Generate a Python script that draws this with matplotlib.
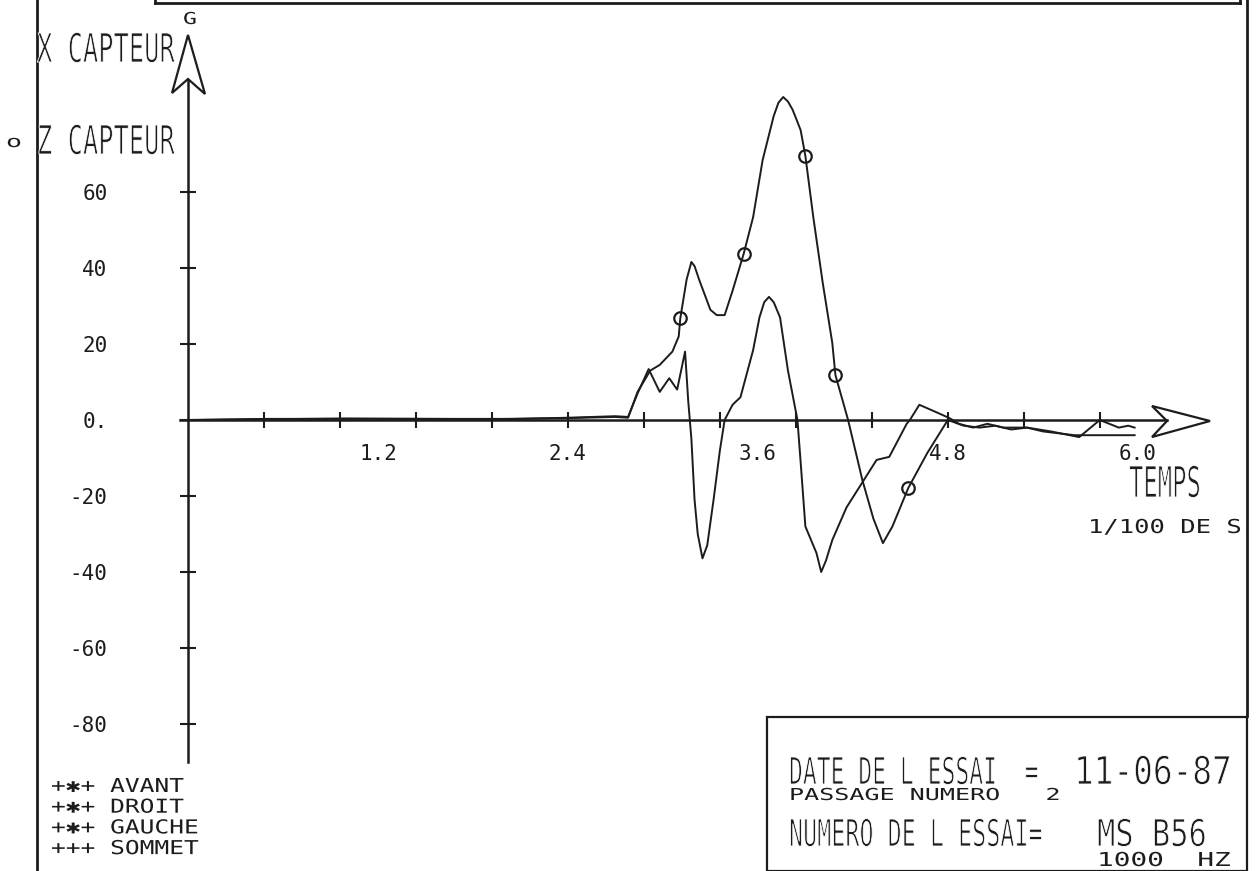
import matplotlib.pyplot as plt
from matplotlib.patches import Polygon, Rectangle
from matplotlib.lines import Line2D
from matplotlib.patheffects import AbstractPathEffect
from matplotlib.transforms import Affine2D

# --- mesures (temps en 1/100 s, acceleration en G) ---
t_x = [0.0, 0.5, 1.0, 1.5, 2.0, 2.4, 2.7, 2.78, 2.84, 2.91, 2.98, 3.04, 3.09,
       3.14, 3.16, 3.18, 3.20, 3.22, 3.25, 3.28, 3.32, 3.36, 3.39, 3.44, 3.49,
       3.57, 3.61, 3.64, 3.67, 3.70, 3.74, 3.79, 3.85, 3.87, 3.90, 3.94, 3.97,
       4.00, 4.03, 4.07, 4.16, 4.23, 4.35, 4.43, 4.54, 4.56, 4.62, 4.73, 4.81,
       4.87, 4.96, 5.05, 5.15, 5.30, 5.45, 5.63, 5.76, 5.82, 5.88, 5.94, 5.98]
g_x = [0.0, 0.2, 0.4, 0.3, 0.2, 0.6, 1.0, 0.8, 7.0, 13.4, 7.4, 11.0, 8.0,
       18.0, 5.0, -5.0, -21.0, -30.0, -36.4, -33.0, -21.0, -8.0, 0.0, 4.0, 6.0,
       18.4, 27.0, 31.0, 32.4, 31.0, 27.0, 13.0, 0.0, -11.0, -28.0, -32.0, -35.0,
       -40.0, -37.0, -31.6, -23.0, -18.4, -10.5, -9.7, -1.0, 0.0, 4.0, 2.0, 0.5,
       -1.0, -2.0, -1.0, -2.0, -2.0, -3.0, -4.5, 0.0, -1.0, -2.0, -1.5, -2.0]

t_z = [0.0, 0.5, 1.0, 1.5, 2.0, 2.4, 2.7, 2.78, 2.84, 2.92, 2.98, 3.06, 3.10,
       3.11, 3.15, 3.18, 3.20, 3.23, 3.30, 3.34, 3.39, 3.44, 3.51, 3.57, 3.63,
       3.70, 3.73, 3.76, 3.79, 3.82, 3.87, 3.90, 3.95, 4.01, 4.07, 4.09, 4.17,
       4.26, 4.33, 4.39, 4.45, 4.55, 4.67, 4.80, 4.90, 5.00, 5.10, 5.20, 5.30,
       5.40, 5.50, 5.60, 5.70, 5.80, 5.90, 5.98]
g_z = [0.0, 0.3, 0.3, 0.3, 0.3, 0.5, 0.8, 0.6, 7.4, 13.0, 14.5, 18.0, 22.0,
       26.8, 37.0, 41.6, 40.5, 36.8, 29.0, 27.6, 27.6, 34.0, 43.7, 53.4, 68.4,
       80.0, 83.5, 85.0, 83.8, 81.6, 76.3, 69.5, 53.4, 36.0, 20.3, 11.8, 0.0,
       -15.8, -26.0, -32.4, -28.0, -17.9, -8.7, 0.0, -1.5, -2.0, -1.5, -2.5, -2.0,
       -3.0, -3.5, -4.0, -4.0, -4.0, -4.0, -4.0]

# points reperes de la voie Z
t_marks = [3.11, 3.51, 3.90, 4.09, 4.55]
g_marks = [26.8, 43.7, 69.5, 11.8, -17.9]

x_ticks = [0.48, 0.96, 1.44, 1.92, 2.40, 2.88, 3.36, 3.84, 4.32, 4.80, 5.28, 5.76]
x_labels = ['1.2', '2.4', '3.6', '4.8', '6.0']
x_label_pos = [1.2, 2.4, 3.6, 4.8, 6.0]
y_ticks = [-80, -60, -40, -20, 0, 20, 40, 60]
y_labels = ['-80', '-60', '-40', '-20', '0.', '20', '40', '60']

legend_lines = ['+✱+ AVANT', '+✱+ DROIT', '+✱+ GAUCHE', '+++ SOMMET']

INK = '#1c1c1c'
W, H = 1257, 871
X0, Y0 = 188, 420       # origine du repere en pixels
SX, SY = 158.3, 3.8     # pixels par unite

MONO = ['DejaVu Sans Mono', 'DejaVu Sans']
CAP = 0.729             # hauteur des capitales / corps (DejaVu Sans Mono)


class PlotterText(AbstractPathEffect):
    """Deforme le texte depuis son point d'origine et amincit le trait."""

    def __init__(self, sx, sy, erode):
        super().__init__()
        self.sx, self.sy, self.erode = sx, sy, erode

    def draw_path(self, renderer, gc, tpath, affine, rgbFace=None):
        tr = Affine2D().scale(self.sx, self.sy) + affine
        renderer.draw_path(gc, tpath, tr, rgbFace)
        if self.erode > 0:
            gc0 = renderer.new_gc()
            gc0.copy_properties(gc)
            gc0.set_foreground('white')
            gc0.set_linewidth(self.erode)
            renderer.draw_path(gc0, tpath, tr, None)
            gc0.restore()


fig = plt.figure(figsize=(W / 100, H / 100), dpi=100)
ax = fig.add_axes([0, 0, 1, 1])
ax.set_xlim(-X0 / SX, (W - X0) / SX)
ax.set_ylim(-(H - Y0) / SY, Y0 / SY)
renderer = fig.canvas.get_renderer()


def px(x, y):
    return ((x - X0) / SX, (Y0 - y) / SY)


def put(x, y, s, width, cap, erode=0.6):
    """Texte de traceur : bord gauche, ligne de base, largeur et hauteur en pixels."""
    txt = fig.text(x / W, 1 - y / H, s, ha='left', va='baseline',
                   family=MONO, fontsize=10, color=INK)
    fs_w = 10 * width / txt.get_window_extent(renderer).width
    fs_c = cap / (CAP * 100 / 72)
    fs = min(fs_w, fs_c)
    txt.set_fontsize(fs)
    txt.set_path_effects([PlotterText(fs_w / fs, fs_c / fs, erode)])
    return txt


# axes en croix
for side in ['top', 'right']:
    ax.spines[side].set_visible(False)
ax.spines['left'].set_position(('data', 0))
ax.spines['bottom'].set_position(('data', 0))
ax.spines['left'].set_bounds(px(0, 762)[1], px(0, 80)[1])
ax.spines['bottom'].set_bounds(px(180, 0)[0], px(1167, 0)[0])
for side in ['left', 'bottom']:
    ax.spines[side].set_linewidth(1.8)
    ax.spines[side].set_color(INK)

ax.xaxis.remove_overlapping_locs = False
ax.set_xticks(x_ticks, labels=[''] * len(x_ticks))
ax.set_xticks(x_label_pos, labels=x_labels, minor=True)
ax.set_yticks(y_ticks, labels=y_labels)
ax.tick_params(axis='both', which='major', direction='inout', length=12,
               width=1.5, color=INK)
ax.tick_params(axis='x', which='minor', length=0, pad=17, labelsize=15,
               labelcolor=INK)
ax.tick_params(axis='y', which='major', pad=52, labelsize=15, labelcolor=INK)
for lab in ax.get_xticklabels(minor=True) + ax.get_yticklabels():
    lab.set_family(MONO)

# fleches ouvertes au bout des axes
ax.add_patch(Polygon([px(188, 35), px(205, 94), px(188, 79), px(172, 93)],
                     closed=True, fill=False, ec=INK, lw=1.6))
ax.add_patch(Polygon([px(1210, 421), px(1152, 406), px(1167, 421), px(1152, 437)],
                     closed=True, fill=False, ec=INK, lw=1.6))

# courbes
ax.plot(t_x, g_x, color=INK, lw=1.4)
ax.plot(t_z, g_z, color=INK, lw=1.4)
ax.plot(t_marks, g_marks, ls='none', marker='o', ms=9, mfc='none',
        mec=INK, mew=1.6)

# cadre de la planche
for xs, ys in [([37, 37], [0, H]), ([1247, 1247], [0, 716]),
               ([155, 1240], [3, 3]), ([155, 155], [0, 3]),
               ([1240, 1240], [0, 3])]:
    fig.add_artist(Line2D([x / W for x in xs], [1 - y / H for y in ys],
                          color=INK, lw=2))
fig.add_artist(Rectangle((767 / W, 0), (1247 - 767) / W, (H - 717) / H,
                         fill=False, ec=INK, lw=1.6))

# textes
put(183, 24, 'G', width=14, cap=12, erode=0)
put(37, 62, 'X CAPTEUR', width=138, cap=29)
put(6, 147, 'o', width=16, cap=12, erode=0)
put(37, 154, 'Z CAPTEUR', width=138, cap=29)
put(1129, 497, 'TEMPS', width=72, cap=31)
put(1088, 533, '1/100 DE S', width=154, cap=14, erode=0)

for i, s in enumerate(legend_lines):
    put(51, 792 + i * 20.7, s, width=9 * 14.8 if i < 2 else 10 * 14.8,
        cap=14, erode=0)

put(789, 784, 'DATE DE L ESSAI  =', width=250, cap=27)
put(1074, 784, '11-06-87', width=158, cap=28)
put(789, 800, 'PASSAGE NUMERO   2', width=272, cap=12, erode=0)
put(789, 846, 'NUMERO DE L ESSAI=', width=254, cap=27)
put(1097, 846, 'MS B56', width=110, cap=27)
put(1097, 866, '1000  HZ', width=134, cap=14, erode=0)

fig.savefig('out.png', dpi=100, facecolor='white')
